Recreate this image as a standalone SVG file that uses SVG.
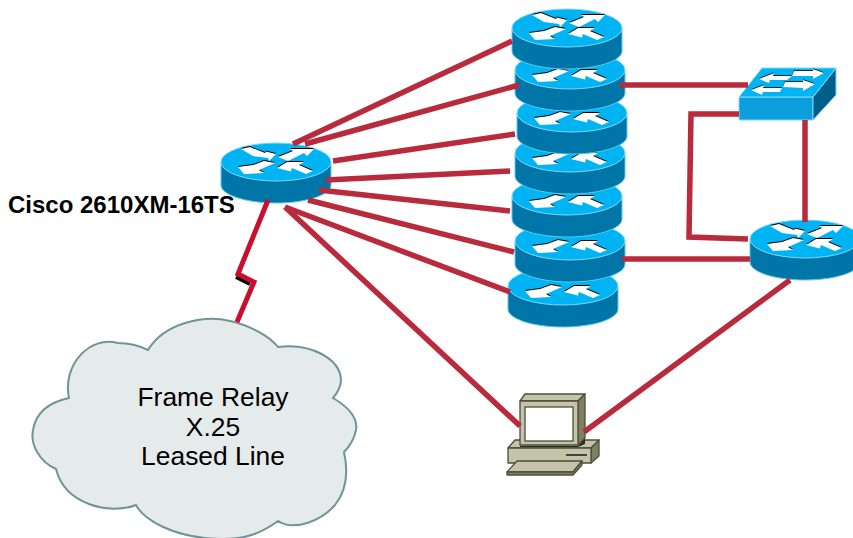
<svg xmlns="http://www.w3.org/2000/svg" xmlns:xlink="http://www.w3.org/1999/xlink" width="853" height="538" viewBox="0 0 853 538">
<style>
.side{fill:#0076a8;stroke:#5cc8ee;stroke-width:1}
.top{fill:#00b4f4;stroke:#7fd8f7;stroke-width:1}
.aw{fill:#fff}
.ab{fill:#000}
.c{fill:none;stroke:#b82a3c;stroke-width:5.5;stroke-linejoin:miter}
.t{font-family:"Liberation Sans",Arial,sans-serif;fill:#000}
.m{font-size:26.4px;text-anchor:middle}
.pc1{fill:#c4c4aa;stroke:#4e4e3a;stroke-width:1.3;stroke-linejoin:round}
.pc2{fill:#7f7f64;stroke:#4e4e3a;stroke-width:1.3;stroke-linejoin:round}
</style>
<defs>
<path id="ll" d="M-38 5 L-23 3 L-12 -1 L-1 1 L-17 8 L-12 11 L-32 12 Z"/>
<path id="lr" d="M1 6 L11 0 L28 0 L23 3 L37 9 L30 12 L16 6 L15 9.5 Z"/>
<path id="ul" d="M-35 -13 L-26 -15 L-11 -9 L-10 -10.5 L0 -8 L-7 -1 L-8 -4 L-23 -6 Z"/>
<path id="ur" d="M2 -5 L17 -11 L14 -13 L38 -13 L31 -6 L28 -9 L12 -1 Z"/>
<g id="lowerArrows">
<g class="ab" transform="translate(0 -.9)"><use href="#ll"/><use href="#lr"/></g>
<g class="aw"><use href="#ll"/><use href="#lr"/></g>
</g>
<g id="upperArrows">
<g class="ab" transform="translate(0 -.9)"><use href="#ul"/><use href="#ur"/></g>
<g class="aw"><use href="#ul"/><use href="#ur"/></g>
</g>
<g id="routerBody">
<path class="side" d="M-55 0 V23 C-55 33 -30 41 0 41 C30 41 55 33 55 23 V0 Z"/>
<ellipse class="top" cx="0" cy="0" rx="55" ry="19"/>
</g>
</defs>

<g id="cloud">
<path d="M148 350 C165 322 205 315 230 321 C252 326 270 337 278 347 C310 343 340 358 341 380 C341 386 338 392 333 398 C350 408 358 418 356 430 C354 440 350 446 344 452 C348 470 347 490 335 505 C322 520 295 532 278 521 C255 538 235 541 205 538 C175 535 145 522 136 505 C110 515 65 505 56 469 C40 462 30 445 33 430 C36 412 50 402 69 398 C62 365 90 335 118 343 C130 343 140 346 148 350 Z" fill="#e5ebeb" stroke="#6f9498" stroke-width="2"/>
<text class="t m" x="213" y="406">Frame Relay</text>
<text class="t m" x="213" y="436">X.25</text>
<text class="t m" x="213" y="465">Leased Line</text>
</g>

<g id="router-7" transform="translate(563 286)"><use href="#routerBody"/><use href="#lowerArrows"/></g>
<g id="router-6" transform="translate(570 241)"><use href="#routerBody"/><use href="#lowerArrows"/></g>
<g id="router-5" transform="translate(567 196)"><use href="#routerBody"/><use href="#lowerArrows"/></g>
<g id="router-4" transform="translate(570 153)"><use href="#routerBody"/><use href="#lowerArrows"/></g>
<g id="router-3" transform="translate(572 113)"><use href="#routerBody"/><use href="#lowerArrows"/></g>
<g id="router-2" transform="translate(570 70)"><use href="#routerBody"/><use href="#lowerArrows"/></g>
<g id="router-1" transform="translate(567 28)"><use href="#routerBody"/><use href="#upperArrows"/><use href="#lowerArrows"/></g>

<g id="router-main" transform="translate(276 162)"><use href="#routerBody"/><use href="#upperArrows"/><use href="#lowerArrows"/></g>
<g id="router-right" transform="translate(805 239)"><use href="#routerBody"/><use href="#upperArrows"/><use href="#lowerArrows"/></g>

<g id="switch">
<path d="M739 97 H813 V120 H739 Z" fill="#0a9fdc" stroke="#7fd8f7"/>
<path d="M813 97 L836 68 V95 L813 120 Z" fill="#005f8a" stroke="#7fd8f7"/>
<path d="M739 97 L762 68 H836 L813 97 Z" fill="#00b4f4" stroke="#7fd8f7"/>
<g fill="#000" transform="translate(0 -.8)">
<path d="M759 79 L774 73 L773 76 L792 76 L787 80 L770 80 L769 83 Z"/>
<path d="M794 71 L813 71 L813 69 L824 73 L813 79 L813 76 L792 76 Z"/>
<path d="M751 90 L764 85 L763 88 L782 88 L780 92 L763 92 L762 95 Z"/>
<path d="M785 82 L803 82 L803 80 L815 84 L803 91 L803 88 L783 87 Z"/>
</g>
<g fill="#fff">
<path d="M759 79 L774 73 L773 76 L792 76 L787 80 L770 80 L769 83 Z"/>
<path d="M794 71 L813 71 L813 69 L824 73 L813 79 L813 76 L792 76 Z"/>
<path d="M751 90 L764 85 L763 88 L782 88 L780 92 L763 92 L762 95 Z"/>
<path d="M785 82 L803 82 L803 80 L815 84 L803 91 L803 88 L783 87 Z"/>
</g>
</g>

<g id="pc">
<path class="pc1" d="M508 448 L515 440 H599 L591 448 Z"/>
<path class="pc2" d="M591 448 L599 440 V456 L591 463 Z"/>
<path class="pc1" d="M508 448 H591 V463 H508 Z"/>
<path d="M566 455 H587" stroke="#222" stroke-width="1.6"/>
<path d="M520 446 H578 L585 438 V444 L578 447 H520 Z" fill="#2b2b22"/>
<path class="pc1" d="M520 401 L525 394 H585 L578 401 Z"/>
<path class="pc2" d="M578 401 L585 394 V438 L578 445 Z"/>
<path class="pc1" d="M520 401 H578 V445 H520 Z"/>
<rect x="525" y="407" width="48" height="34" fill="#fff" stroke="#4e4e3a" stroke-width="1.3"/>
<path class="pc1" d="M507 472 L517 461 H582 L573 472 Z"/>
<path class="pc2" d="M507 472 H573 L582 461 V465 L573 475 H507 Z"/>
</g>

<g id="connectors">
<path class="c" d="M293 144 L512 41"/>
<path class="c" d="M305 144 L519 85"/>
<path class="c" d="M333 161 L515 134"/>
<path class="c" d="M326 180 L510 171"/>
<path class="c" d="M319 190 L510 211"/>
<path class="c" d="M308 200 L514 252"/>
<path class="c" d="M285 207 L510 292"/>
<path class="c" d="M285 207 L520 426"/>
<path class="c" d="M620 85 H748"/>
<path class="c" d="M622 259 H750"/>
<path class="c" d="M739 114 H691 L689 237 L748 239"/>
<path class="c" d="M805 120 V222"/>
<path class="c" d="M584 432 L790 280"/>
<path d="M236 277 L250 284" fill="none" stroke="#000" stroke-width="4"/>
<path d="M268 200 L238 274 L254 282 L237 322" fill="none" stroke="#c8102e" stroke-width="5"/>
</g>

<g id="label-main"><text class="t" x="8" y="213" font-size="24" font-weight="bold">Cisco 2610XM-16TS</text></g>
</svg>
